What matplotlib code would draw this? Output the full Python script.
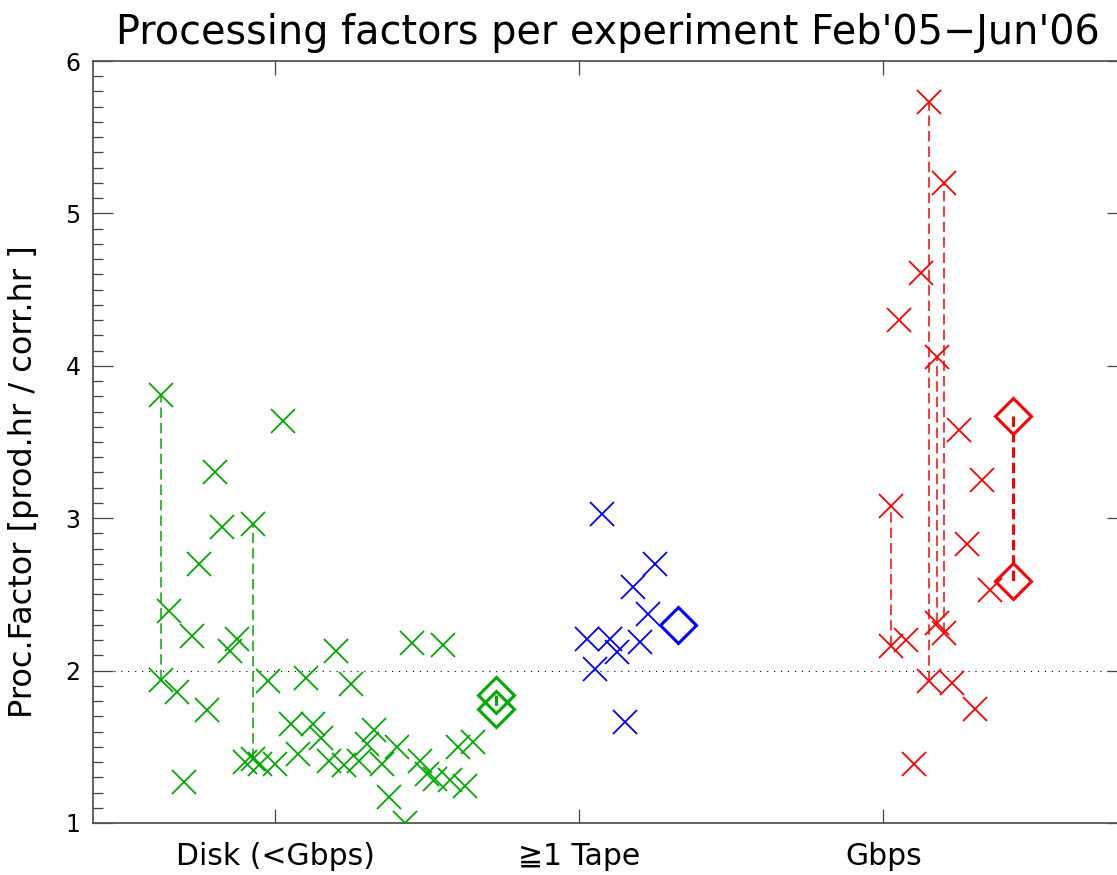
import numpy as np
import matplotlib
matplotlib.use("Agg")
import matplotlib.pyplot as plt

plt.rcParams['font.family'] = ['DejaVu Sans']
plt.rcParams['lines.scale_dashes'] = False

# ---------------- data ----------------
categories = ["Disk (<Gbps)", "\u22671 Tape", "Gbps"]
title = "Processing factors per experiment Feb'05\u2212Jun'06"
ylabel = "Proc.Factor [prod.hr / corr.hr ]"

disk_pf = [1.94, 2.39, 1.86, 1.27, 2.23, 2.70, 1.74, 3.30, 2.94, 2.13, 2.21, 1.40,
           1.42, 1.39, 1.93, 1.39, 3.64, 1.65, 1.45, 1.95, 1.65, 1.56, 1.41, 2.13,
           1.38, 1.91, 1.41, 1.52, 1.61, 1.39, 1.17, 1.50, 1.00, 2.18, 1.41, 1.32,
           1.29, 2.17, 1.28, 1.50, 1.24, 1.53]
disk_pf_alt = {0: 3.81, 12: 2.96}
disk_mean = [1.84, 1.75]

tape_pf = [2.21, 2.01, 3.03, 2.21, 2.12, 1.66, 2.55, 2.19, 2.37, 2.70]
tape_pf_alt = {}
tape_mean = [2.30]

gbps_pf = [2.16, 4.30, 2.20, 1.39, 4.61, 1.93, 2.31, 2.25, 1.92, 3.58, 2.83, 1.75,
           3.25, 2.53]
gbps_pf_alt = {0: 3.08, 5: 5.73, 6: 4.06, 7: 5.20}
gbps_mean = [3.67, 2.59]

reference_level = 2.0

groups = [
    (disk_pf, disk_pf_alt, disk_mean, "#00aa00", 1 - 15 * 0.025),
    (tape_pf, tape_pf_alt, tape_mean, "#0000ff", 2 + 0.025),
    (gbps_pf, gbps_pf_alt, gbps_mean, "#ff0000", 3 + 0.025),
]
step = 0.025

# ---------------- figure ----------------
W, H = 1117, 875
fig = plt.figure(figsize=(W / 100, H / 100), dpi=100)
ax = fig.add_axes([93 / W, 52 / H, 1033.6 / W, 762 / H])

ax.axhline(reference_level, color="black", lw=0.8, dashes=(0.8, 4.2), zorder=1)

for vals, alts, means, col, start in groups:
    n = len(vals)
    xs = start + step * np.arange(n)
    for i, v in alts.items():
        ax.plot([xs[i], xs[i]], [vals[i], v], color=col, lw=1.1,
                dashes=(7.5, 3.6), zorder=2)
        ax.plot([xs[i]], [v], marker="x", ls="none", color=col, ms=17, mew=1.3,
                zorder=3)
    ax.plot(xs, vals, marker="x", ls="none", color=col, ms=17, mew=1.3, zorder=3)
    xm = start + step * (n + 2)
    if len(means) > 1:
        ax.plot([xm] * len(means), means, color=col, lw=2.2, dashes=(7.5, 3.6),
                zorder=2)
    ax.plot([xm] * len(means), means, marker="D", ls="none", mfc="none",
            mec=col, ms=18.5, mew=2.2, zorder=4)

ax.set_xlim(0.4, 3.8)
ax.set_ylim(1, 6)
ax.set_xticks([1, 2, 3])
ax.set_xticklabels(categories, fontsize=21.5)
ax.set_yticks([1, 2, 3, 4, 5, 6])
ax.set_yticklabels(["1", "2", "3", "4", "5", "6"], fontsize=17)
ax.set_yticks(np.arange(1, 6.001, 0.1), minor=True)
ax.tick_params(axis="x", which="major", direction="in", length=10, width=0.9,
               top=True, bottom=True, pad=14, color="#444444")
ax.tick_params(axis="x", which="minor", bottom=False, top=False)
ax.tick_params(axis="y", which="major", direction="in", length=14.5, width=0.9,
               left=True, right=True, pad=9, color="#444444")
ax.tick_params(axis="y", which="minor", direction="in", length=7.2, width=0.9,
               left=True, right=True, color="#444444")
for s in ax.spines.values():
    s.set_color("#555555")
    s.set_linewidth(1.3)

fig.text(608 / W, 1 - 33 / H, title, ha="center", va="center", fontsize=28.6)
fig.text(24 / W, 1 - 482 / H, ylabel, ha="center", va="center", rotation=90,
         fontsize=23)

fig.savefig("out.png", dpi=100)
